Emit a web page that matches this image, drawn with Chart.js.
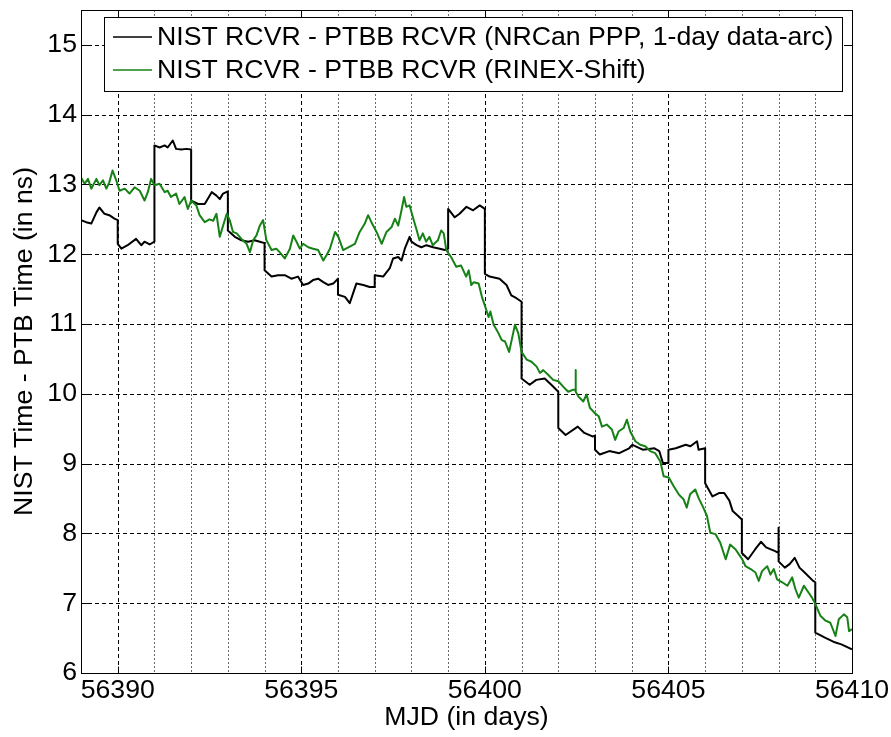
<!DOCTYPE html>
<html>
<head>
<meta charset="utf-8">
<script src="https://cdn.jsdelivr.net/npm/chart.js@4.4.1/dist/chart.umd.min.js"></script>
<style>
  html, body { margin: 0; padding: 0; background: #ffffff; }
  #wrap { width: 891px; height: 737px; }
  canvas { display: block; }
</style>
</head>
<body>
<div id="wrap"><canvas id="c" width="891" height="737"></canvas></div>
<script>
// NRCan PPP (1-day data arcs): MJD and clock difference in ns
const ppMjd = [
  56389.00,56389.14,56389.28,56389.42,56389.50,56389.64,56389.77,56389.91,56390.00,
  56390.00,56390.10,56390.27,56390.50,56390.64,56390.73,56390.87,56391.00,
  56391.00,56391.14,56391.28,56391.36,56391.50,56391.59,56391.73,56391.87,56392.00,
  56392.00,56392.19,56392.37,56392.56,56392.69,56392.78,56392.87,56393.00,
  56393.00,56393.19,56393.37,56393.55,56393.73,56393.87,56394.00,
  56394.00,56394.19,56394.37,56394.55,56394.73,56394.91,56395.05,56395.19,56395.32,56395.46,56395.60,56395.73,56395.87,56396.00,
  56396.00,56396.19,56396.32,56396.50,56396.69,56396.86,56397.00,
  56397.00,56397.23,56397.41,56397.50,56397.64,56397.73,56397.82,56397.95,56398.00,
  56398.14,56398.27,56398.41,56398.59,56398.77,56398.91,56399.00,
  56399.00,56399.18,56399.31,56399.50,56399.68,56399.86,56400.00,
  56400.00,56400.13,56400.40,56400.59,56400.72,56400.86,56401.00,
  56401.00,56401.22,56401.40,56401.63,56401.81,56402.00,
  56402.00,56402.20,56402.53,56402.71,56402.93,56403.00,
  56403.00,56403.13,56403.39,56403.66,56403.93,56404.02,56404.30,56404.62,56404.75,56404.85,56405.00,
  56405.00,56405.20,56405.47,56405.60,56405.78,56405.82,56406.00,
  56406.00,56406.20,56406.39,56406.52,56406.66,56406.75,56406.90,56407.00,
  56407.00,56407.17,56407.36,56407.52,56407.66,56407.89,56408.00,
  56408.00,56408.00,56408.17,56408.30,56408.44,56408.57,56408.71,56408.94,56409.00,
  56409.00,56409.25,56409.53,56409.71,56410.00
];
const ppNs = [
  12.49,12.46,12.44,12.60,12.67,12.58,12.56,12.51,12.49,
  12.15,12.08,12.13,12.22,12.13,12.18,12.14,12.18,
  13.56,13.53,13.56,13.53,13.63,13.51,13.50,13.51,13.50,
  12.77,12.72,12.72,12.89,12.84,12.79,12.87,12.90,
  12.34,12.25,12.20,12.18,12.20,12.18,12.16,
  11.77,11.68,11.70,11.70,11.65,11.68,11.56,11.58,11.63,11.65,11.60,11.56,11.58,11.65,
  11.42,11.39,11.30,11.58,11.56,11.53,11.53,
  11.70,11.68,11.80,11.94,11.96,11.91,12.08,12.25,12.18,
  12.13,12.10,12.13,12.10,12.08,12.06,12.08,
  12.65,12.53,12.58,12.68,12.63,12.70,12.65,
  11.72,11.68,11.65,11.56,11.41,11.37,11.32,
  10.22,10.13,10.20,10.22,10.13,10.03,
  9.51,9.41,9.53,9.44,9.39,9.40,
  9.20,9.13,9.18,9.15,9.22,9.27,9.20,9.22,9.18,9.01,9.01,
  9.20,9.22,9.27,9.25,9.32,9.20,9.22,
  8.72,8.53,8.58,8.58,8.47,8.32,8.25,8.20,
  7.72,7.63,7.77,7.88,7.80,7.75,7.72,
  8.08,7.60,7.51,7.56,7.65,7.51,7.44,7.32,7.30,
  6.58,6.51,6.44,6.41,6.34
];

// RINEX-Shift: MJD and clock difference in ns
const rsMjd = [
  56389.00,56389.10,56389.19,56389.28,56389.42,56389.50,56389.60,56389.69,56389.77,56389.86,56389.96,
  56390.05,56390.19,56390.32,56390.46,56390.60,56390.73,56390.82,56390.91,56391.00,
  56391.14,56391.28,56391.36,56391.45,56391.59,56391.68,56391.82,56391.91,56392.00,
  56392.14,56392.23,56392.37,56392.50,56392.60,56392.69,56392.78,56392.87,56392.97,
  56393.05,56393.14,56393.24,56393.37,56393.51,56393.60,56393.69,56393.78,56393.87,56393.96,
  56394.05,56394.19,56394.32,56394.41,56394.55,56394.69,56394.78,56394.87,56394.96,
  56395.05,56395.19,56395.32,56395.46,56395.60,56395.69,56395.78,56395.92,
  56396.01,56396.14,56396.28,56396.46,56396.59,56396.73,56396.82,56396.91,
  56397.05,56397.19,56397.32,56397.46,56397.55,56397.64,56397.73,56397.80,56397.86,56397.95,
  56398.04,56398.13,56398.22,56398.31,56398.40,56398.49,56398.58,56398.72,56398.81,56398.88,56398.95,
  56399.08,56399.22,56399.35,56399.49,56399.56,56399.63,56399.70,56399.83,56399.92,
  56400.01,56400.10,56400.15,56400.24,56400.37,56400.46,56400.55,56400.66,56400.73,56400.82,56400.91,
  56401.00,56401.14,56401.27,56401.41,56401.50,56401.59,56401.73,56401.86,
  56402.00,56402.14,56402.27,56402.41,56402.46,56402.47,56402.48,56402.55,56402.68,56402.77,56402.86,
  56403.00,56403.10,56403.19,56403.32,56403.46,56403.55,56403.64,56403.78,56403.87,56403.96,
  56404.10,56404.23,56404.37,56404.50,56404.64,56404.78,56404.87,
  56405.01,56405.14,56405.28,56405.41,56405.50,56405.59,56405.73,56405.82,56405.95,
  56406.05,56406.14,56406.28,56406.41,56406.56,56406.68,56406.83,56406.92,
  56407.01,56407.10,56407.24,56407.37,56407.46,56407.55,56407.69,56407.78,56407.87,56407.96,
  56408.10,56408.24,56408.37,56408.46,56408.55,56408.69,56408.82,56408.91,
  56409.00,56409.14,56409.28,56409.41,56409.55,56409.64,56409.78,56409.87,56409.92,56410.00
];
const rsNs = [
  13.10,13.01,13.08,12.94,13.08,12.99,13.06,12.94,13.03,13.20,13.06,
  12.91,12.94,12.87,12.96,12.91,12.77,12.89,13.08,12.99,
  13.01,12.89,12.91,12.82,12.87,12.72,12.82,12.65,12.77,
  12.70,12.56,12.46,12.50,12.48,12.58,12.25,12.41,12.58,
  12.49,12.32,12.30,12.22,12.15,12.03,12.20,12.27,12.41,12.49,
  12.20,12.06,12.08,12.03,11.94,12.08,12.27,12.18,12.08,
  12.15,12.10,12.08,12.06,11.91,11.99,12.08,12.32,
  12.25,12.06,12.10,12.15,12.32,12.44,12.56,12.46,
  12.32,12.15,12.32,12.39,12.51,12.41,12.63,12.82,12.68,12.70,
  12.53,12.37,12.20,12.30,12.18,12.25,12.13,12.20,12.34,12.30,12.06,
  11.96,11.82,11.84,11.68,11.77,11.56,11.60,11.58,11.39,
  11.25,11.10,11.18,10.99,10.87,10.77,10.75,10.60,10.77,10.99,10.87,
  10.60,10.49,10.46,10.39,10.30,10.34,10.27,10.20,
  10.18,10.10,10.03,10.06,10.06,10.34,10.03,9.96,9.89,9.99,9.80,
  9.72,9.68,9.53,9.56,9.49,9.34,9.46,9.51,9.63,9.46,
  9.32,9.27,9.25,9.18,9.15,9.03,8.82,
  8.80,8.68,8.56,8.49,8.37,8.56,8.63,8.51,8.37,
  8.25,8.01,7.99,7.87,7.63,7.84,7.77,7.70,
  7.63,7.53,7.49,7.44,7.32,7.46,7.53,7.41,7.49,7.34,
  7.30,7.25,7.37,7.20,7.08,7.25,7.15,7.08,
  6.99,6.82,6.75,6.72,6.53,6.77,6.84,6.80,6.60,6.63
];

// Axis extents and labelled ticks
const xMin = 56389, xMax = 56410;
const yMin = 6, yMax = 15.5;
const xTickValues = [56390, 56395, 56400, 56405, 56410];
const yTickValues = [6, 7, 8, 9, 10, 11, 12, 13, 14, 15];

const seriesLabels = [
  'NIST RCVR - PTBB RCVR (NRCan PPP, 1-day data-arc)',
  'NIST RCVR - PTBB RCVR (RINEX-Shift)'
];

const FONT = 'Liberation Sans, Arial, Helvetica, sans-serif';
const FS = 26.67;

const toPoints = (xs, ys) => xs.map((x, i) => ({ x: x, y: ys[i] }));

// Grid, box, inward ticks and the boxed legend
const framePlugin = {
  id: 'frame',
  beforeDatasetsDraw(chart) {
    const { ctx, chartArea: a, scales: { x, y } } = chart;
    ctx.save();
    ctx.lineWidth = 1;
    // horizontal grid at labelled y ticks
    ctx.strokeStyle = '#000';
    ctx.setLineDash([4, 3]);
    yTickValues.forEach(v => {
      const py = Math.round(y.getPixelForValue(v)) + 0.5;
      if (py <= a.top + 1 || py >= a.bottom - 1) return;
      ctx.beginPath(); ctx.moveTo(a.left, py); ctx.lineTo(a.right, py); ctx.stroke();
    });
    // vertical grid: every day, dashed at labelled days, dotted between
    for (let d = xMin + 1; d < xMax; d++) {
      const px = Math.round(x.getPixelForValue(d)) + 0.5;
      const major = xTickValues.includes(d);
      ctx.strokeStyle = major ? '#000' : '#6a6a6a';
      ctx.setLineDash(major ? [4, 3] : [2, 2]);
      ctx.beginPath(); ctx.moveTo(px, a.top); ctx.lineTo(px, a.bottom); ctx.stroke();
    }
    ctx.restore();
  },
  afterDatasetsDraw(chart) {
    const { ctx, chartArea: a, scales: { x, y } } = chart;
    ctx.save();
    ctx.setLineDash([]);
    ctx.strokeStyle = '#000';
    ctx.lineWidth = 1;
    const L = Math.round(a.left) + 0.5, R = Math.round(a.right) + 0.5;
    const T = Math.round(a.top) + 0.5, B = Math.round(a.bottom) + 0.5;
    ctx.strokeRect(L, T, R - L, B - T);
    const tl = 7;
    ctx.beginPath();
    xTickValues.forEach(v => {
      const px = Math.round(x.getPixelForValue(v)) + 0.5;
      ctx.moveTo(px, B); ctx.lineTo(px, B - tl);
      ctx.moveTo(px, T); ctx.lineTo(px, T + tl);
    });
    yTickValues.forEach(v => {
      const py = Math.round(y.getPixelForValue(v)) + 0.5;
      ctx.moveTo(L, py); ctx.lineTo(L + tl, py);
      ctx.moveTo(R, py); ctx.lineTo(R - tl, py);
    });
    ctx.stroke();

    // legend
    const ds = chart.data.datasets;
    ctx.font = FS + 'px ' + FONT;
    const textX = 157;
    let maxW = 0;
    ds.forEach(d => { maxW = Math.max(maxW, ctx.measureText(d.label).width); });
    const bx = 104.5, by = 17.5, bw = Math.round(textX + maxW + 9 - bx), bh = 74;
    ctx.fillStyle = '#fff';
    ctx.fillRect(bx, by, bw, bh);
    ctx.strokeRect(bx, by, bw, bh);
    const rows = [37, 70];
    ds.forEach((d, i) => {
      ctx.strokeStyle = d.borderColor;
      ctx.lineWidth = 1.5;
      ctx.beginPath(); ctx.moveTo(113, rows[i]); ctx.lineTo(152, rows[i]); ctx.stroke();
      ctx.fillStyle = '#000';
      ctx.textBaseline = 'middle';
      ctx.textAlign = 'left';
      ctx.fillText(d.label, textX, rows[i] + 1);
    });
    ctx.restore();
  }
};

new Chart(document.getElementById('c'), {
  type: 'line',
  data: {
    datasets: [
      {
        label: seriesLabels[0],
        data: toPoints(ppMjd, ppNs),
        borderColor: '#000000',
        borderWidth: 2,
        order: 1
      },
      {
        label: seriesLabels[1],
        data: toPoints(rsMjd, rsNs),
        borderColor: 'rgb(22,130,22)',
        borderWidth: 2,
        order: 0
      }
    ]
  },
  options: {
    responsive: false,
    animation: false,
    devicePixelRatio: 1,
    parsing: false,
    elements: {
      point: { radius: 0, hoverRadius: 0 },
      line: { tension: 0, fill: false, borderJoinStyle: 'round' }
    },
    layout: { autoPadding: false, padding: { top: 10, right: 39, bottom: 0, left: 0 } },
    plugins: { legend: { display: false }, tooltip: { enabled: false } },
    events: [],
    scales: {
      x: {
        type: 'linear',
        min: xMin,
        max: xMax,
        afterBuildTicks: s => { s.ticks = xTickValues.map(v => ({ value: v })); },
        afterFit: s => { s.height = 64; s.paddingLeft = 0; s.paddingRight = 0; },
        grid: { display: false, drawTicks: false },
        border: { display: false },
        ticks: {
          color: '#000',
          padding: 2,
          maxRotation: 0,
          autoSkip: false,
          font: { family: FONT, size: FS },
          callback: v => String(v)
        },
        title: {
          display: true,
          text: 'MJD (in days)',
          color: '#000',
          font: { family: FONT, size: FS },
          padding: { top: 0, bottom: 3 }
        }
      },
      y: {
        type: 'linear',
        min: yMin,
        max: yMax,
        afterBuildTicks: s => { s.ticks = yTickValues.map(v => ({ value: v })); },
        afterFit: s => { s.width = 81; s.paddingTop = 0; s.paddingBottom = 0; },
        grid: { display: false, drawTicks: false },
        border: { display: false },
        ticks: {
          color: '#000',
          padding: 4,
          autoSkip: false,
          font: { family: FONT, size: FS },
          callback: v => String(v)
        },
        title: {
          display: true,
          text: 'NIST Time - PTB Time (in ns)',
          color: '#000',
          font: { family: FONT, size: FS },
          padding: { top: 9, bottom: 0 }
        }
      }
    }
  },
  plugins: [framePlugin]
});
</script>
</body>
</html>
